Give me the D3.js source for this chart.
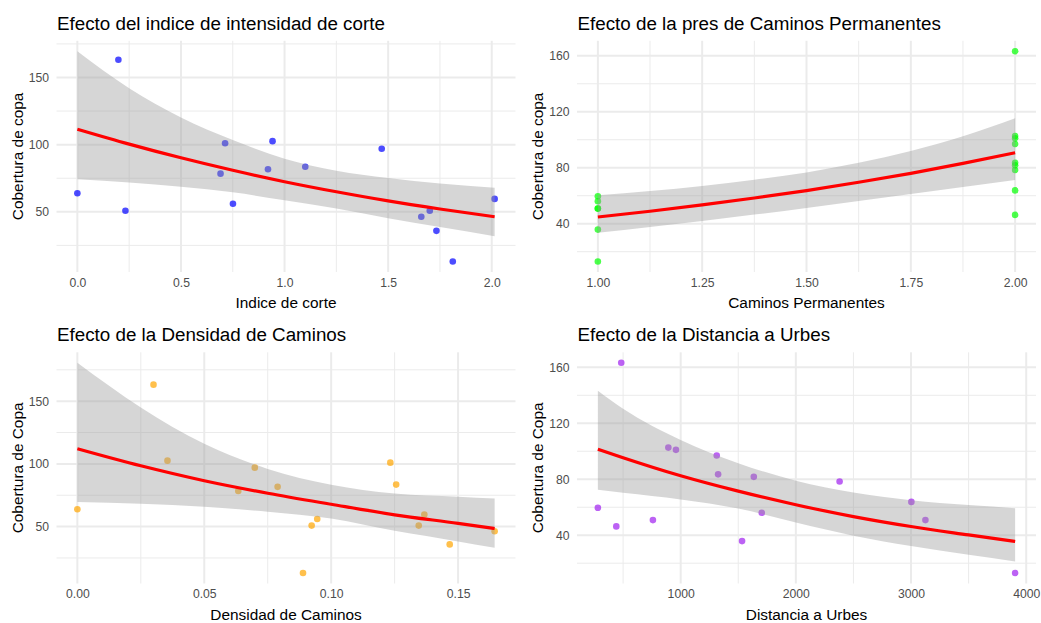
<!DOCTYPE html>
<html>
<head>
<meta charset="utf-8">
<script src="https://cdn.jsdelivr.net/npm/d3@7"></script>
<style>
  html, body { margin: 0; padding: 0; background: #ffffff; }
  svg text { font-family: "Liberation Sans", Arial, Helvetica, sans-serif; }
</style>
</head>
<body>
<svg id="chart" width="1041" height="623"></svg>
<script>
// ---- Observations (one entry per site) ----
const cobertura        = [163.2, 63.8, 50.8, 78.4, 101, 56, 81.7, 102.6, 83.5, 97, 46.3, 50.8, 35.8, 13, 59.6];
const indiceCorte      = [0.198, 0, 0.232, 0.691, 0.713, 0.751, 0.920, 0.942, 1.100, 1.469, 1.660, 1.701, 1.733, 1.812, 2.014];
const caminosPerm      = [2, 2, 1, 2, 2, 1, 2, 2, 2, 2, 2, 1, 1, 1, 1];
const densidadCaminos  = [0.030, 0, 0.0923, 0.0634, 0.1233, 0.0945, 0.0789, 0.0355, 0.1256, 0.0699, 0.1644, 0.1345, 0.1467, 0.0889, 0.1367];
const distanciaUrbes   = [484, 3003, 759, 2380, 959, 1704, 1635, 893, 1325, 1313, 441, 3125, 1533, 3904, 281];

// ---- Fitted model curves with confidence band ----
const fitIndiceX  = [0, 0.25, 0.5, 0.75, 1.0, 1.25, 1.5, 1.75, 2.014];
const fitIndiceY  = [111.5, 100.4, 90.2, 80.9, 72.4, 64.9, 58.1, 52.1, 46.3];
const fitIndiceLo = [74.3, 71.8, 68.6, 64.5, 58.6, 52.4, 45.2, 38.6, 31.8];
const fitIndiceHi = [169.5, 142, 120.3, 103.5, 89.5, 80.6, 75.2, 71.1, 68];

const fitCaminosX  = [1, 1.125, 1.25, 1.375, 1.5, 1.625, 1.75, 1.875, 2];
const fitCaminosY  = [44.8, 48.9, 53.4, 58.4, 63.7, 69.6, 76.0, 83.1, 90.7];
const fitCaminosLo = [33.6, 37.7, 42, 46.5, 51.3, 56.2, 61.2, 66.2, 71.2];
const fitCaminosHi = [60.3, 63.3, 67, 71.4, 76.6, 83.5, 92, 102.5, 115.3];

const fitDensidadX  = [0, 0.025, 0.05, 0.075, 0.1, 0.125, 0.15, 0.1644];
const fitDensidadY  = [112.1, 98.5, 86.6, 76.6, 67.8, 59.4, 52.6, 48.5];
const fitDensidadLo = [69.7, 68.3, 65.8, 61.8, 56.4, 46.6, 38.2, 33.1];
const fitDensidadHi = [180.6, 145, 116, 96, 83.4, 76.4, 73.8, 72.4];

const fitDistX  = [281, 500, 1000, 1500, 2000, 2500, 3000, 3500, 3904];
const fitDistY  = [101.5, 95.4, 82.5, 71.5, 61.8, 53.3, 46.2, 40.2, 35.5];
const fitDistLo = [72.4, 70.3, 65.5, 59, 49, 39.6, 32.2, 26, 21.3];
const fitDistHi = [143.2, 130.3, 108, 91.5, 79, 70.5, 65, 61.5, 59.3];

// ---- Tick values ----
const ticksIndiceX      = [0, 0.5, 1, 1.5, 2];
const minorIndiceX      = [0.25, 0.75, 1.25, 1.75];
const ticksCaminosX     = [1, 1.25, 1.5, 1.75, 2];
const minorCaminosX     = [1.125, 1.375, 1.625, 1.875];
const ticksDensidadX    = [0, 0.05, 0.1, 0.15];
const minorDensidadX    = [0.025, 0.075, 0.125];
const ticksDistX        = [1000, 2000, 3000, 4000];
const minorDistX        = [500, 1500, 2500, 3500];
const ticksY50          = [50, 100, 150];
const minorY50          = [25, 75, 125, 175];
const ticksY40          = [40, 80, 120, 160];
const minorY40          = [20, 60, 100, 140];

const svg = d3.select("#chart");

function panel(cfg) {
  const left = cfg.cellX + 56.5, right = cfg.cellX + 515.5;
  const top = cfg.cellY + 40.8, bottom = cfg.cellY + 272;

  const expand = ([a, b]) => { const p = (b - a) * 0.05; return [a - p, b + p]; };
  const xDom = expand(d3.extent(cfg.x.concat(cfg.fitX)));
  const yDom = expand(d3.extent(cfg.y.concat(cfg.fitLo, cfg.fitHi)));
  const x = d3.scaleLinear().domain(xDom).range([left, right]);
  const y = d3.scaleLinear().domain(yDom).range([bottom, top]);

  const g = svg.append("g");
  const grid = g.append("g");
  const inX = v => v >= xDom[0] && v <= xDom[1];
  const inY = v => v >= yDom[0] && v <= yDom[1];

  // minor grid
  grid.selectAll(".mx").data(cfg.minorX.filter(inX)).join("line")
    .attr("x1", d => x(d)).attr("x2", d => x(d)).attr("y1", top).attr("y2", bottom)
    .attr("stroke", "#ebebeb").attr("stroke-width", 1);
  grid.selectAll(".my").data(cfg.minorY.filter(inY)).join("line")
    .attr("y1", d => y(d)).attr("y2", d => y(d)).attr("x1", left).attr("x2", right)
    .attr("stroke", "#ebebeb").attr("stroke-width", 1);
  // major grid
  grid.selectAll(".Mx").data(cfg.ticksX.filter(inX)).join("line")
    .attr("x1", d => x(d)).attr("x2", d => x(d)).attr("y1", top).attr("y2", bottom)
    .attr("stroke", "#ebebeb").attr("stroke-width", 2);
  grid.selectAll(".My").data(cfg.ticksY.filter(inY)).join("line")
    .attr("y1", d => y(d)).attr("y2", d => y(d)).attr("x1", left).attr("x2", right)
    .attr("stroke", "#ebebeb").attr("stroke-width", 2);

  // observations
  const pts = cfg.x.map((v, i) => [v, cfg.y[i]]);
  g.append("g").selectAll("circle").data(pts).join("circle")
    .attr("cx", d => x(d[0])).attr("cy", d => y(d[1])).attr("r", 3.3)
    .attr("fill", cfg.color).attr("fill-opacity", 0.7);

  // confidence band and fitted curve
  const fit = cfg.fitX.map((v, i) => ({ x: v, y: cfg.fitY[i], lo: cfg.fitLo[i], hi: cfg.fitHi[i] }));
  g.append("path").datum(fit)
    .attr("d", d3.area().curve(d3.curveMonotoneX).x(d => x(d.x)).y0(d => y(d.lo)).y1(d => y(d.hi)))
    .attr("fill", "#999999").attr("fill-opacity", 0.4);
  g.append("path").datum(fit)
    .attr("d", d3.line().curve(d3.curveMonotoneX).x(d => x(d.x)).y(d => y(d.y)))
    .attr("fill", "none").attr("stroke", "#ff0000").attr("stroke-width", 3.2);

  // axes (labels only, no lines)
  const xAxis = g.append("g").attr("transform", `translate(0,${bottom})`)
    .call(d3.axisBottom(x).tickValues(cfg.ticksX).tickFormat(cfg.fmtX).tickSize(0).tickPadding(6));
  xAxis.select(".domain").remove();
  xAxis.selectAll("text").attr("font-size", 12.2).attr("fill", "#4d4d4d")
    .attr("font-family", "Liberation Sans, Arial, sans-serif").attr("dy", "0.71em");

  const yAxis = g.append("g").attr("transform", `translate(${left},0)`)
    .call(d3.axisLeft(y).tickValues(cfg.ticksY).tickFormat(d3.format("d")).tickSize(0).tickPadding(7.5));
  yAxis.select(".domain").remove();
  yAxis.selectAll("text").attr("font-size", 12.2).attr("fill", "#4d4d4d")
    .attr("font-family", "Liberation Sans, Arial, sans-serif");

  // titles
  g.append("text").attr("x", left + 0.5).attr("y", top - 11)
    .attr("font-size", 18.8).attr("fill", "#000").text(cfg.title);
  g.append("text").attr("x", (left + right) / 2).attr("y", bottom + 36)
    .attr("text-anchor", "middle").attr("font-size", 15.4).attr("fill", "#000").text(cfg.xLabel);
  g.append("text")
    .attr("transform", `translate(${cfg.cellX + 22.5},${(top + bottom) / 2}) rotate(-90)`)
    .attr("text-anchor", "middle").attr("font-size", 15.4).attr("fill", "#000").text(cfg.yLabel);
}

panel({
  cellX: 0, cellY: 0, color: "#0000ff",
  x: indiceCorte, y: cobertura,
  fitX: fitIndiceX, fitY: fitIndiceY, fitLo: fitIndiceLo, fitHi: fitIndiceHi,
  ticksX: ticksIndiceX, minorX: minorIndiceX, ticksY: ticksY50, minorY: minorY50,
  fmtX: d3.format(".1f"),
  title: "Efecto del indice de intensidad de corte",
  xLabel: "Indice de corte", yLabel: "Cobertura de copa"
});

panel({
  cellX: 520.5, cellY: 0, color: "#00ff00",
  x: caminosPerm, y: cobertura,
  fitX: fitCaminosX, fitY: fitCaminosY, fitLo: fitCaminosLo, fitHi: fitCaminosHi,
  ticksX: ticksCaminosX, minorX: minorCaminosX, ticksY: ticksY40, minorY: minorY40,
  fmtX: d3.format(".2f"),
  title: "Efecto de la pres de Caminos Permanentes",
  xLabel: "Caminos Permanentes", yLabel: "Cobertura de copa"
});

panel({
  cellX: 0, cellY: 311.5, color: "#ffa500",
  x: densidadCaminos, y: cobertura,
  fitX: fitDensidadX, fitY: fitDensidadY, fitLo: fitDensidadLo, fitHi: fitDensidadHi,
  ticksX: ticksDensidadX, minorX: minorDensidadX, ticksY: ticksY50, minorY: minorY50,
  fmtX: d3.format(".2f"),
  title: "Efecto de la Densidad de Caminos",
  xLabel: "Densidad de Caminos", yLabel: "Cobertura de Copa"
});

panel({
  cellX: 520.5, cellY: 311.5, color: "#a020f0",
  x: distanciaUrbes, y: cobertura,
  fitX: fitDistX, fitY: fitDistY, fitLo: fitDistLo, fitHi: fitDistHi,
  ticksX: ticksDistX, minorX: minorDistX, ticksY: ticksY40, minorY: minorY40,
  fmtX: d3.format("d"),
  title: "Efecto de la Distancia a Urbes",
  xLabel: "Distancia a Urbes", yLabel: "Cobertura de Copa"
});
</script>
</body>
</html>
